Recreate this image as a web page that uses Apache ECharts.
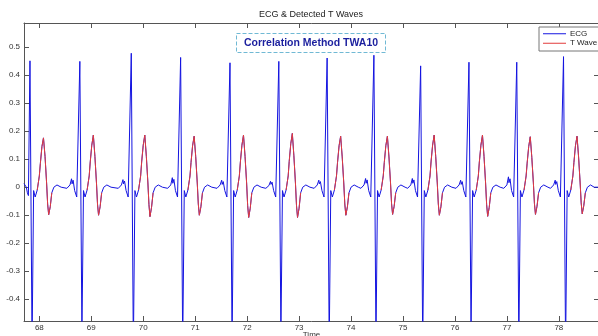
<!DOCTYPE html>
<html>
<head>
<meta charset="utf-8">
<title>ECG & Detected T Waves</title>
<script src="https://cdn.jsdelivr.net/npm/echarts@6.0.0/dist/echarts.min.js"></script>
<style>
  html, body { margin: 0; padding: 0; background: #fff; }
  #chart { width: 598px; height: 336px; }
</style>
</head>
<body>
<div id="chart"></div>
<script>
// ECG samples, one beat per line (Q, R, S ... P wave)
const ecgTime = [
  67.705, 67.75, 67.77,
  67.79, 67.82, 67.86, 67.89, 67.92, 67.96, 68.00, 68.02, 68.05, 68.08, 68.11, 68.14, 68.16, 68.18, 68.21, 68.24, 68.28, 68.34, 68.42, 68.53, 68.59, 68.62, 68.63, 68.65, 68.68, 68.72,
  68.75, 68.78, 68.82, 68.85, 68.88, 68.92, 68.96, 68.98, 69.01, 69.04, 69.07, 69.10, 69.12, 69.14, 69.17, 69.20, 69.24, 69.30, 69.38, 69.52, 69.58, 69.61, 69.62, 69.64, 69.67, 69.71,
  69.74, 69.77, 69.81, 69.84, 69.87, 69.91, 69.95, 69.97, 70.00, 70.03, 70.06, 70.09, 70.11, 70.13, 70.16, 70.19, 70.23, 70.29, 70.37, 70.47, 70.53, 70.56, 70.57, 70.59, 70.62, 70.66,
  70.69, 70.72, 70.76, 70.79, 70.82, 70.86, 70.90, 70.92, 70.95, 70.98, 71.01, 71.04, 71.06, 71.08, 71.11, 71.14, 71.18, 71.24, 71.32, 71.42, 71.48, 71.51, 71.52, 71.54, 71.57, 71.61,
  71.64, 71.67, 71.71, 71.74, 71.77, 71.81, 71.85, 71.87, 71.90, 71.93, 71.96, 71.99, 72.01, 72.03, 72.06, 72.09, 72.13, 72.19, 72.27, 72.36, 72.42, 72.45, 72.46, 72.48, 72.51, 72.55,
  72.58, 72.61, 72.65, 72.68, 72.71, 72.75, 72.79, 72.81, 72.84, 72.87, 72.90, 72.93, 72.95, 72.97, 73.00, 73.03, 73.07, 73.13, 73.21, 73.29, 73.35, 73.38, 73.39, 73.41, 73.44, 73.48,
  73.51, 73.54, 73.58, 73.61, 73.64, 73.68, 73.72, 73.74, 73.77, 73.80, 73.83, 73.86, 73.88, 73.90, 73.93, 73.96, 74.00, 74.06, 74.14, 74.19, 74.25, 74.28, 74.29, 74.31, 74.34, 74.38,
  74.41, 74.44, 74.48, 74.51, 74.54, 74.58, 74.62, 74.64, 74.67, 74.70, 74.73, 74.76, 74.78, 74.80, 74.83, 74.86, 74.90, 74.96, 75.04, 75.09, 75.15, 75.18, 75.19, 75.21, 75.24, 75.28,
  75.31, 75.34, 75.38, 75.41, 75.44, 75.48, 75.52, 75.54, 75.57, 75.60, 75.63, 75.66, 75.68, 75.70, 75.73, 75.76, 75.80, 75.86, 75.94, 76.02, 76.08, 76.11, 76.12, 76.14, 76.17, 76.21,
  76.24, 76.27, 76.31, 76.34, 76.37, 76.41, 76.45, 76.47, 76.50, 76.53, 76.56, 76.59, 76.61, 76.63, 76.66, 76.69, 76.73, 76.79, 76.87, 76.94, 77.00, 77.03, 77.04, 77.06, 77.09, 77.13,
  77.16, 77.19, 77.23, 77.26, 77.29, 77.33, 77.37, 77.39, 77.42, 77.45, 77.48, 77.51, 77.53, 77.55, 77.58, 77.61, 77.65, 77.71, 77.79, 77.84, 77.90, 77.93, 77.94, 77.96, 77.99, 78.03,
  78.06, 78.09, 78.13, 78.16, 78.19, 78.23, 78.27, 78.29, 78.32, 78.35, 78.38, 78.41, 78.43, 78.45, 78.48, 78.51, 78.55, 78.61, 78.68, 78.78
];
const ecgValue = [
  0.013, 0.0, -0.02,
  -0.03, 0.451, -0.56, -0.012, -0.035, -0.01, 0.04, 0.085, 0.145, 0.176, 0.11, 0.015, -0.06, -0.098, -0.07, -0.02, 0.0, 0.008, 0.0, -0.004, 0.008, 0.030, 0.012, 0.025, -0.012, -0.035,
  -0.03, 0.449, -0.52, -0.012, -0.035, -0.01, 0.04, 0.09, 0.15, 0.186, 0.11, 0.015, -0.06, -0.1, -0.07, -0.02, 0.0, 0.008, 0.0, -0.004, 0.008, 0.027, 0.012, 0.022, -0.012, -0.035,
  -0.03, 0.478, -0.58, -0.012, -0.035, -0.01, 0.04, 0.09, 0.15, 0.186, 0.11, 0.015, -0.062, -0.105, -0.072, -0.02, 0.0, 0.008, 0.0, -0.004, 0.008, 0.034, 0.014, 0.028, -0.012, -0.035,
  -0.03, 0.463, -0.57, -0.012, -0.035, -0.01, 0.04, 0.088, 0.148, 0.182, 0.11, 0.015, -0.06, -0.1, -0.07, -0.02, 0.0, 0.008, 0.0, -0.004, 0.008, 0.025, 0.01, 0.02, -0.012, -0.035,
  -0.03, 0.444, -0.55, -0.012, -0.035, -0.01, 0.04, 0.09, 0.15, 0.186, 0.11, 0.015, -0.065, -0.108, -0.075, -0.02, 0.0, 0.008, 0.0, -0.004, 0.006, 0.021, 0.01, 0.018, -0.012, -0.035,
  -0.03, 0.449, -0.53, -0.012, -0.035, -0.01, 0.04, 0.092, 0.155, 0.192, 0.112, 0.015, -0.065, -0.108, -0.075, -0.02, 0.0, 0.008, 0.0, -0.004, 0.008, 0.025, 0.012, 0.02, -0.012, -0.035,
  -0.03, 0.461, -0.56, -0.012, -0.035, -0.01, 0.04, 0.088, 0.148, 0.182, 0.108, 0.015, -0.06, -0.1, -0.07, -0.02, 0.0, 0.008, 0.0, -0.004, 0.008, 0.031, 0.014, 0.026, -0.012, -0.035,
  -0.03, 0.471, -0.55, -0.012, -0.035, -0.01, 0.04, 0.088, 0.148, 0.182, 0.108, 0.015, -0.058, -0.097, -0.068, -0.02, 0.0, 0.008, 0.0, -0.004, 0.008, 0.031, 0.014, 0.026, -0.012, -0.035,
  -0.03, 0.433, -0.57, -0.012, -0.035, -0.01, 0.04, 0.09, 0.15, 0.186, 0.11, 0.015, -0.06, -0.1, -0.07, -0.02, 0.0, 0.008, 0.0, -0.004, 0.008, 0.025, 0.01, 0.02, -0.012, -0.035,
  -0.03, 0.446, -0.52, -0.012, -0.035, -0.01, 0.04, 0.09, 0.15, 0.186, 0.11, 0.015, -0.062, -0.104, -0.072, -0.02, 0.0, 0.008, 0.0, -0.004, 0.008, 0.037, 0.016, 0.03, -0.012, -0.035,
  -0.03, 0.446, -0.56, -0.012, -0.035, -0.01, 0.04, 0.086, 0.145, 0.18, 0.106, 0.015, -0.058, -0.097, -0.068, -0.02, 0.0, 0.008, 0.0, -0.004, 0.008, 0.025, 0.01, 0.02, -0.012, -0.035,
  -0.03, 0.466, -0.58, -0.012, -0.035, -0.01, 0.04, 0.088, 0.148, 0.182, 0.108, 0.015, -0.056, -0.095, -0.066, -0.02, 0.0, 0.008, 0.0, 0.0
];

// detected T wave windows (onset / offset, seconds)
const tWaveOn  = [67.96, 68.92, 69.91, 70.86, 71.81, 72.75, 73.68, 74.58, 75.48, 76.41, 77.33, 78.23];
const tWaveOff = [68.24, 69.20, 70.19, 71.14, 72.09, 73.03, 73.96, 74.86, 75.76, 76.69, 77.61, 78.51];

const xTicks = [68, 69, 70, 71, 72, 73, 74, 75, 76, 77, 78];
const yTicks = [-0.4, -0.3, -0.2, -0.1, 0, 0.1, 0.2, 0.3, 0.4, 0.5];

const font = 'Liberation Sans, Arial, sans-serif';
const axisColor = '#555';

let ecgData = ecgTime.map((t, i) => [t, ecgValue[i]]);

let tSeries = tWaveOn.map((on, k) => ({
  name: 'T Wave',
  type: 'line',
  data: ecgData.filter(p => p[0] >= on && p[0] <= tWaveOff[k]),
  symbol: 'none',
  lineStyle: {color: '#e23b3b', width: 1},
  itemStyle: {color: '#e23b3b'},
  z: 3
}));

function xAxisBox(pos, withLabels) {
  return {
    type: 'value',
    position: pos,
    min: 67.705,
    max: 78.773,
    axisLine: {show: true, onZero: false, lineStyle: {color: axisColor, width: 1}},
    axisTick: {show: true, inside: true, length: 5, customValues: xTicks, lineStyle: {color: axisColor}},
    axisLabel: {show: withLabels, customValues: xTicks, color: '#333', fontSize: 8, fontFamily: font, margin: 3},
    splitLine: {show: false},
    name: withLabels ? 'Time' : '',
    nameLocation: 'middle',
    nameGap: 10,
    nameMoveOverlap: false,
    nameTextStyle: {color: '#333', fontSize: 8, fontFamily: font}
  };
}

function yAxisBox(pos, withLabels) {
  return {
    type: 'value',
    position: pos,
    min: -0.4775,
    max: 0.586,
    axisLine: {show: true, onZero: false, lineStyle: {color: axisColor, width: 1}},
    axisTick: {show: true, inside: true, length: 5, customValues: yTicks, lineStyle: {color: axisColor}},
    axisLabel: {
      show: withLabels, customValues: yTicks, color: '#333', fontSize: 8, fontFamily: font, margin: 4,
      formatter: v => String(+(+v).toFixed(1))
    },
    splitLine: {show: false}
  };
}

let chart = echarts.init(document.getElementById('chart'));
chart.setOption({
  animation: false,
  grid: {left: 24, right: -1, top: 23, bottom: 15, outerBoundsMode: 'none', containLabel: false},
  xAxis: [xAxisBox('bottom', true), xAxisBox('top', false)],
  yAxis: [yAxisBox('left', true), yAxisBox('right', false)],
  legend: {
    data: ['ECG', 'T Wave'],
    orient: 'vertical',
    left: 539,
    top: 27,
    icon: 'rect',
    padding: [2, 16, 3, 4],
    itemGap: 0,
    itemWidth: 23,
    itemHeight: 1,
    borderColor: '#777',
    borderWidth: 1,
    backgroundColor: '#fff',
    textStyle: {color: '#222', fontSize: 8, fontFamily: font, lineHeight: 9.5, padding: [0, 0, 0, -1]}
  },
  graphic: [
    {
      type: 'text', x: 311, y: 15,
      style: {text: 'ECG & Detected T Waves', fill: '#222', font: '9px ' + font, align: 'center', verticalAlign: 'middle'}
    },
    {
      type: 'rect', shape: {x: 236.5, y: 33.5, width: 149, height: 19},
      style: {fill: '#fff', stroke: '#70b9d4', lineWidth: 1, lineDash: [4, 2]},
      z: 10
    },
    {
      type: 'text', x: 311, y: 43, z: 11,
      style: {text: 'Correlation Method TWA10', fill: '#1b1f9e', font: 'bold 10.5px ' + font, align: 'center', verticalAlign: 'middle'}
    }
  ],
  series: [
    {
      name: 'ECG',
      type: 'line',
      data: ecgData,
      symbol: 'none',
      sampling: null,
      lineStyle: {color: '#1414e0', width: 1},
      itemStyle: {color: '#1414e0'},
      z: 2
    }
  ].concat(tSeries)
});
</script>
</body>
</html>
